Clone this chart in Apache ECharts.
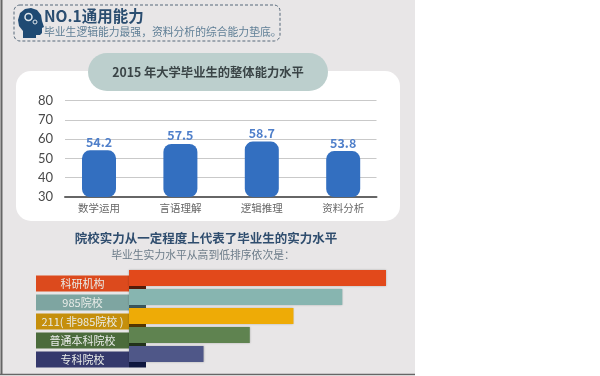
<!DOCTYPE html>
<html>
<head>
<meta charset="utf-8">
<style>
  html, body { margin: 0; padding: 0; background: #fff; }
  #chart { width: 600px; height: 376px; }
</style>
</head>
<body>
<div id="chart"></div>
<script src="https://cdn.jsdelivr.net/npm/echarts@6/dist/echarts.min.js"></script>
<script>
  var font = '"Noto Sans CJK SC", "Noto Sans", sans-serif';

  // upper chart
  var abilityNames = ['数学运用', '言语理解', '逻辑推理', '资料分析'];
  var abilityScores = [54.2, 57.5, 58.7, 53.8];

  // lower ranking, no axis in the picture so values are relative to the longest bar
  var schoolNames = ['科研机构', '985院校', '211( 非985院校 )', '普通本科院校', '专科院校'];
  var schoolLevels = [100, 83, 64, 47, 29];
  var schoolColors = ['#e2491b', '#87b5b0', '#eeab06', '#5f8350', '#4f5788'];
  var tabColors = ['#dc4a1d', '#7ea5a1', '#c58f0c', '#4b6b3b', '#35396c'];
  var foldColors = ['#5a1e0a', '#3d5a60', '#5a3a05', '#24361c', '#101840'];
  var tabLengths = [93, 93, 93, 93, 93];
  var foldLengths = [17, 17, 17, 17, 17];

  var myChart = echarts.init(document.getElementById('chart'), null, { renderer: 'canvas' });

  var option = {
    animation: false,
    textStyle: { fontFamily: font },
    graphic: [
      // page behind the charts
      { type: 'rect', z: -10, shape: { x: 0, y: 0, width: 415, height: 375 }, style: { fill: '#e8e6e7' } },
      { type: 'line', z: -9, shape: { x1: 1.5, y1: 0, x2: 1.5, y2: 375 }, style: { stroke: '#666', lineWidth: 2 } },
      { type: 'line', z: -9, shape: { x1: 0, y1: 374.5, x2: 415, y2: 374.5 }, style: { stroke: '#666', lineWidth: 1.5 } },
      // header box
      { type: 'rect', z: -8, shape: { x: 14, y: 5, width: 266, height: 36, r: 6 }, style: { fill: 'none', stroke: '#56697a', lineWidth: 1, lineDash: [3, 2] } },
      // head icon
      {
        type: 'polygon', z: -7,
        shape: { points: [[18, 20], [20, 13], [25, 9], [31, 8], [37, 10], [41, 15], [42, 21], [44, 27], [42, 28], [42, 33], [40, 35], [36, 35], [36, 38], [23, 38], [23, 31], [19, 26]] },
        style: { fill: '#1f4a73' }
      },
      { type: 'circle', z: -6, shape: { cx: 28.5, cy: 17, r: 3.5 }, style: { fill: 'none', stroke: '#dfe6ec', lineWidth: 1.5 } },
      { type: 'circle', z: -6, shape: { cx: 35, cy: 22, r: 2 }, style: { fill: 'none', stroke: '#dfe6ec', lineWidth: 1 } },
      { type: 'text', z: -6, style: { x: 44, y: 16, text: 'NO.1通用能力', fill: '#2a4d70', font: 'bold 15.5px ' + font, textVerticalAlign: 'middle' } },
      { type: 'text', z: -6, style: { x: 44, y: 32, text: '毕业生逻辑能力最强，资料分析的综合能力垫底。', fill: '#5f7f96', font: '10.8px ' + font, textVerticalAlign: 'middle' } },
      // white card and title pill
      { type: 'rect', z: -5, shape: { x: 16, y: 71, width: 384, height: 150, r: 15 }, style: { fill: '#fff' } },
      { type: 'rect', z: -4, shape: { x: 88, y: 53, width: 240, height: 38, r: 19 }, style: { fill: '#bccfcd' } },
      { type: 'text', z: -3, style: { x: 208, y: 72, text: '2015 年大学毕业生的整体能力水平', fill: '#3a4446', font: 'bold 12.3px ' + font, textAlign: 'center', textVerticalAlign: 'middle' } },
      // lower headings
      { type: 'text', z: -3, style: { x: 206, y: 238, text: '院校实力从一定程度上代表了毕业生的实力水平', fill: '#2f4d6e', font: 'bold 12.5px ' + font, textAlign: 'center', textVerticalAlign: 'middle' } },
      { type: 'text', z: -3, style: { x: 203, y: 255, text: '毕业生实力水平从高到低排序依次是：', fill: '#6b7b88', font: '10.8px ' + font, textAlign: 'center', textVerticalAlign: 'middle' } }
    ],
    grid: [
      { left: 65, top: 100.5, width: 311.5, height: 96.5 },   // gridlines and y labels
      { left: 58.3, top: 100.5, width: 325.6, height: 96.5 }, // ability bars
      { left: 36, top: 274, width: 110.7, height: 95 },       // label tabs
      { left: 129, top: 268.5, width: 257, height: 95 }       // ranking bars
    ],
    xAxis: [
      { gridIndex: 0, type: 'value', min: 0, max: 1, show: true, axisLabel: { show: false }, axisTick: { show: false }, splitLine: { show: false }, axisLine: { show: true, onZero: false, lineStyle: { color: '#666', width: 2 } } },
      { gridIndex: 1, type: 'category', data: abilityNames, axisLine: { show: false }, axisTick: { show: false }, axisLabel: { color: '#666', fontSize: 10.5, margin: 6 } },
      { gridIndex: 2, type: 'value', min: 0, max: 110.7, show: false },
      { gridIndex: 3, type: 'value', min: 0, max: 100, show: false }
    ],
    yAxis: [
      { gridIndex: 0, type: 'value', min: 30, max: 80, interval: 10, axisLine: { show: false }, axisTick: { show: false },
        axisLabel: { color: '#4a4a4a', fontSize: 13, margin: 12, fontFamily: 'Lato' }, splitLine: { lineStyle: { color: '#c9c9c9', width: 1 } } },
      { gridIndex: 1, type: 'value', min: 30, max: 80, show: false },
      { gridIndex: 2, type: 'category', data: schoolNames, inverse: true, show: false },
      { gridIndex: 3, type: 'category', data: schoolNames, inverse: true, show: false }
    ],
    series: [
      {
        type: 'bar', xAxisIndex: 1, yAxisIndex: 1, data: abilityScores, barWidth: 34,
        itemStyle: { color: '#336fc0', borderRadius: 8 },
        label: { show: true, position: 'top', distance: 2, color: '#4f7fca', fontSize: 12.5, fontWeight: 'bold' }
      },
      {
        type: 'bar', xAxisIndex: 2, yAxisIndex: 2, stack: 'tab', barWidth: 16, z: 2,
        data: tabLengths.map(function (v, i) { return { value: v, itemStyle: { color: tabColors[i] } } }),
        label: {
          show: true, position: 'inside', color: '#e9ece8', fontSize: 11,
          formatter: function (p) { return schoolNames[p.dataIndex] }
        }
      },
      {
        type: 'bar', xAxisIndex: 2, yAxisIndex: 2, stack: 'tab', barWidth: 16, z: 2,
        data: foldLengths.map(function (v, i) { return { value: v, itemStyle: { color: foldColors[i] } } })
      },
      {
        type: 'bar', xAxisIndex: 3, yAxisIndex: 3, barWidth: 16, z: 3,
        data: schoolLevels.map(function (v, i) {
          return { value: v, itemStyle: { color: schoolColors[i], shadowColor: 'rgba(0,0,0,0.25)', shadowBlur: 2 } }
        })
      }
    ]
  };

  myChart.setOption(option);
</script>
</body>
</html>
